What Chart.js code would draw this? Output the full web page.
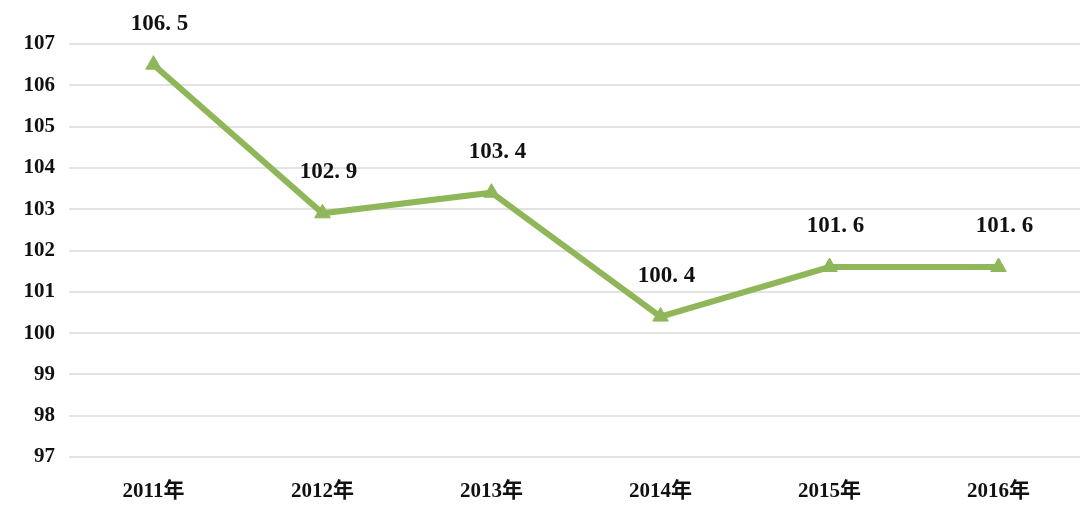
<!DOCTYPE html>
<html>
<head>
<meta charset="utf-8">
<script src="https://cdn.jsdelivr.net/npm/chart.js@4/dist/chart.umd.min.js"></script>
<style>
  html, body { margin: 0; padding: 0; background: #fff; overflow: hidden; }
  #wrap { width: 1080px; height: 512px; overflow: hidden; }
</style>
</head>
<body>
<div id="wrap"><canvas id="myChart" width="1093" height="512"></canvas></div>
<script>
// data
var years = ["2011年", "2012年", "2013年", "2014年", "2015年", "2016年"];
var values = [106.5, 102.9, 103.4, 100.4, 101.6, 101.6];
var yMin = 97;
var yMax = 107;

var fontFam = "'Liberation Serif', 'Noto Sans CJK SC', serif";

// labels above each point, like "106. 5"
var pointLabels = {
    id: 'pointLabels',
    afterDatasetsDraw(chart) {
        const ctx = chart.ctx;
        const meta = chart.getDatasetMeta(0);
        ctx.save();
        ctx.font = "bold 23px " + fontFam;
        ctx.fillStyle = "#111";
        ctx.textAlign = "center";
        ctx.textBaseline = "middle";
        meta.data.forEach((pt, i) => {
            const txt = values[i].toFixed(1).replace(".", ". ");
            ctx.fillText(txt, pt.x + 6, pt.y - 41);
        });
        ctx.restore();
    }
};

const ctx = document.getElementById('myChart');
new Chart(ctx, {
    type: 'line',
    data: {
        labels: years,
        datasets: [{
            data: values,
            borderColor: '#8fb659',
            backgroundColor: '#8fb659',
            borderWidth: 6,
            pointStyle: 'triangle',
            pointRadius: 9,
            pointBorderWidth: 1,
            tension: 0
        }]
    },
    options: {
        responsive: false,
        animation: false,
        layout: { padding: { top: 44, right: 0, left: 0, bottom: 0 } },
        plugins: {
            legend: { display: false },
            tooltip: { enabled: false }
        },
        scales: {
            x: {
                offset: true,
                grid: { display: false },
                border: { display: false },
                ticks: {
                    color: '#111',
                    padding: 14,
                    font: { family: fontFam, size: 21, weight: 'bold' }
                },
                afterFit(scale) { scale.height = 55; }
            },
            y: {
                min: yMin,
                max: yMax,
                ticks: {
                    stepSize: 1,
                    color: '#111',
                    padding: 14,
                    font: { family: fontFam, size: 21, weight: 'bold' }
                },
                grid: { color: '#e3e3e3', lineWidth: 2, drawTicks: false },
                border: { display: false },
                afterFit(scale) { scale.width = 69; }
            }
        }
    },
    plugins: [pointLabels]
});
</script>
</body>
</html>
